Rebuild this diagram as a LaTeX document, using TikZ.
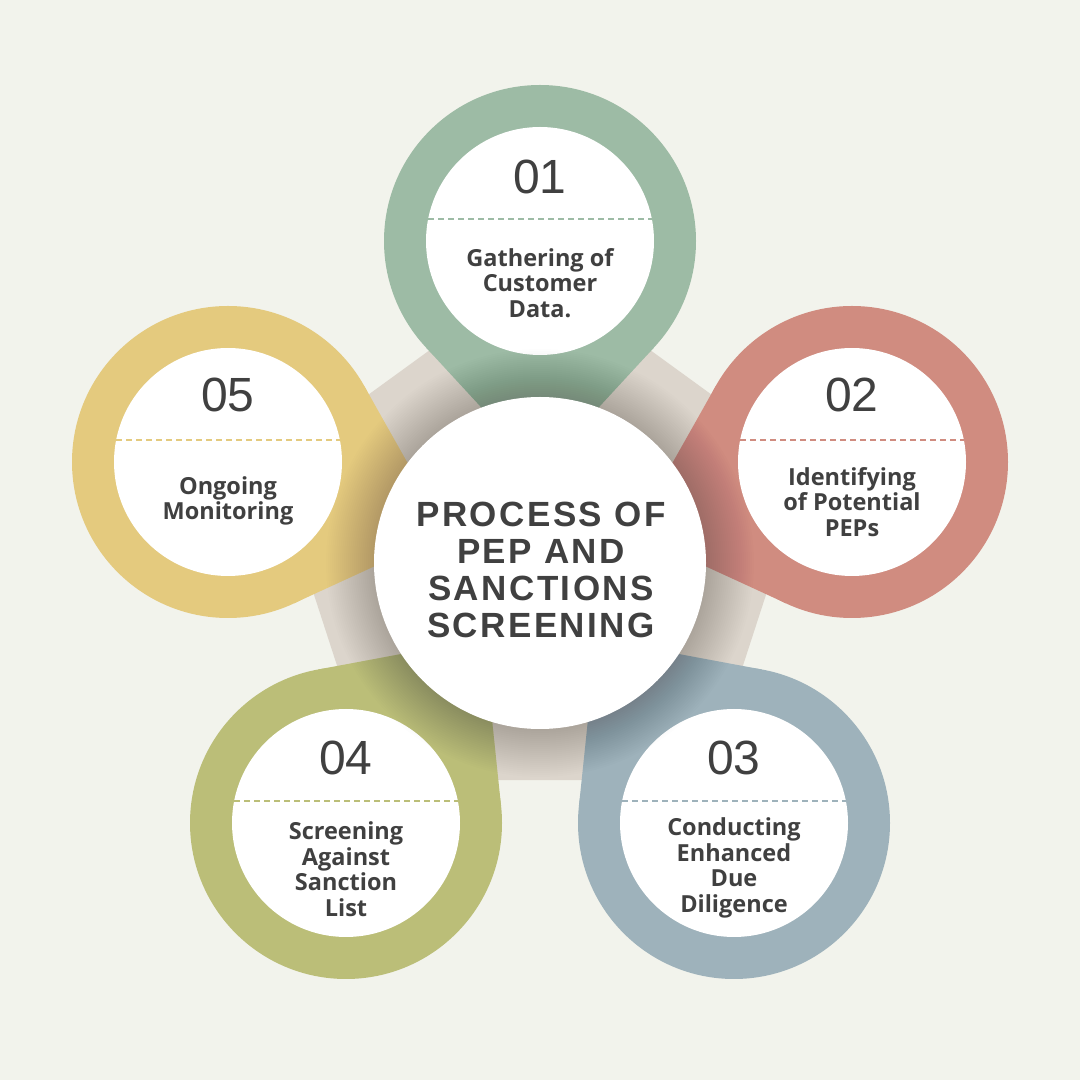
\documentclass[tikz,border=0pt]{standalone}
\usepackage{fontspec}
\setmainfont{Open Sans}
\newfontfamily\numfont{Liberation Sans}
\newfontfamily\titlefont{Liberation Sans}[LetterSpace=7]
\usetikzlibrary{calc}
\definecolor{bgc}{HTML}{F2F3EC}
\definecolor{beigec}{HTML}{DCD5CC}
\definecolor{pgreen}{HTML}{9DBBA5}
\definecolor{pred}{HTML}{D08C80}
\definecolor{pblue}{HTML}{9EB2BB}
\definecolor{polive}{HTML}{BBBE78}
\definecolor{pyellow}{HTML}{E4CA7E}
\definecolor{txt}{HTML}{404040}
\tikzset{
  numtext/.style={inner sep=0pt, text=txt, font=\numfont\fontsize{48}{48}\selectfont},
  bodytext/.style={inner sep=0pt, text=txt, align=center, font=\bfseries\fontsize{23.5}{25.5}\selectfont},
  titletext/.style={inner sep=0pt, text=txt, align=center, font=\titlefont\bfseries\fontsize{35}{37.3}\selectfont},
  dashline/.style={line width=1.6pt, dash pattern=on 6pt off 4pt}
}
\begin{document}
\begin{tikzpicture}[x=1pt,y=1pt]
\useasboundingbox (0,0) rectangle (1080,1080);
\fill[bgc] (0,0) rectangle (1080,1080);
\coordinate (C) at (540,517);
\coordinate (PC) at (540,528);
% pentagon
\fill[beigec] ($(PC)+(90:282)$) -- ($(PC)+(162:282)$) -- ($(PC)+(234:282)$) -- ($(PC)+(306:282)$) -- ($(PC)+(18:282)$) -- cycle;
% petal centres
\coordinate (P1) at (540,839);
\coordinate (P2) at (852,618);
\coordinate (P3) at (734,257);
\coordinate (P4) at (346,257);
\coordinate (P5) at (228,618);
\foreach \k/\col in {1/pgreen,2/pred,3/pblue,4/polive,5/pyellow}{
  \coordinate (T\k) at ($(P\k)!230pt!(C)$);
  \coordinate (A\k) at ($(P\k)!156pt!47:(C)$);
  \coordinate (B\k) at ($(P\k)!156pt!-47:(C)$);
  \fill[\col] (P\k) circle (156);
  \fill[\col] (T\k) -- (A\k) -- (B\k) -- cycle;
  \fill[white] (P\k) circle (114);
  \coordinate (L\k) at ($(P\k)+(-111.9,22)$);
  \coordinate (R\k) at ($(P\k)+(111.9,22)$);
  \draw[\col, dashline] (L\k) -- (R\k);
}
% shadow of centre circle
\foreach \i in {1,...,24}{
  \fill[black, opacity=0.0075] (C) circle ({166+2*\i});
}
\node[circle, fill=white, minimum size=332pt, inner sep=0pt] (center) at (C) {};
\node[titletext] (title) at (541,510) {PROCESS OF\\PEP AND\\SANCTIONS\\SCREENING};
% numbers
\node[numtext] (n1) at (540,903) {01};
\node[numtext] (n2) at (852,685) {02};
\node[numtext] (n3) at (734,322) {03};
\node[numtext] (n4) at (346,322) {04};
\node[numtext] (n5) at (228,685) {05};
% texts
\node[bodytext] (t1) at (540,797) {Gathering of\\Customer\\Data.};
\node[bodytext] (t2) at (852,578) {Identifying\\of Potential\\PEPs};
\node[bodytext] (t3) at (734,212) {Conducting\\Enhanced\\Due\\Diligence};
\node[bodytext] (t4) at (346,211) {Screening\\Against\\Sanction\\List};
\node[bodytext] (t5) at (228,579) {Ongoing\\Monitoring};
\end{tikzpicture}
\end{document}
